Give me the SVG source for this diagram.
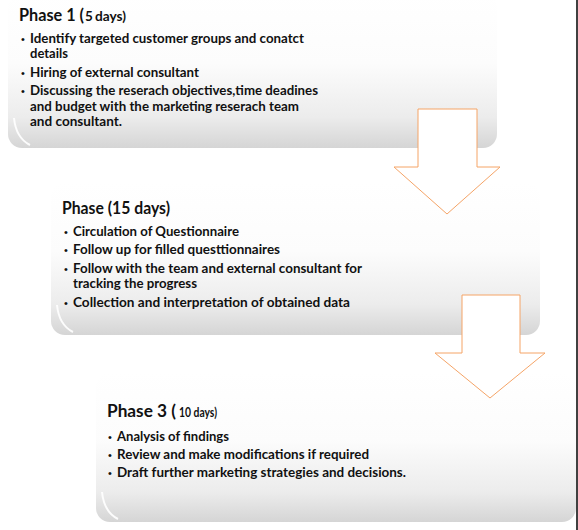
<svg xmlns="http://www.w3.org/2000/svg" width="578" height="530" viewBox="0 0 578 530">
  <style>
    .t { font-family: Lato, "Liberation Sans", sans-serif; font-weight: bold; fill: #111; }
    .title { font-size: 16.5px; }
    .sm { font-size: 13.5px; }
    .li { font-size: 12.8px; }
    .dot { font-family: "Liberation Sans", sans-serif; font-size: 11px; fill: #111; }
    .box { fill: url(#boxGrad); }
    .hl { fill: none; stroke: #ffffff; stroke-width: 2; opacity: 0.9; }
    .arrow { fill: #ffffff; stroke: #f5a467; stroke-width: 1; }
  </style>
  <defs>
    <linearGradient id="boxGrad" x1="0" y1="0" x2="0" y2="1">
      <stop offset="0" stop-color="#ffffff"/>
      <stop offset="0.45" stop-color="#fcfcfc"/>
      <stop offset="0.8" stop-color="#ececec"/>
      <stop offset="1" stop-color="#d5d5d5"/>
    </linearGradient>
  </defs>
  <rect x="0" y="0" width="578" height="530" fill="#ffffff"/>

  <g id="phase1">
    <rect class="box" x="8" y="-6" width="489" height="154" rx="14"/>
    <path class="hl" d="M 14 118 Q 16 138 30 145"/>
    <text class="t title" x="19" y="21" textLength="65" lengthAdjust="spacingAndGlyphs">Phase 1 (</text>
    <text class="t sm" x="85" y="21">5</text>
    <text class="t sm" x="95" y="21" textLength="31" lengthAdjust="spacingAndGlyphs">days)</text>
    <text class="dot" x="21" y="43">•</text>
    <text class="t li" x="30" y="43" textLength="274" lengthAdjust="spacingAndGlyphs">Identify targeted customer groups and conatct</text>
    <text class="t li" x="30" y="58" textLength="38" lengthAdjust="spacingAndGlyphs">details</text>
    <text class="dot" x="21" y="77">•</text>
    <text class="t li" x="30" y="77" textLength="169" lengthAdjust="spacingAndGlyphs">Hiring of external consultant</text>
    <text class="dot" x="21" y="95">•</text>
    <text class="t li" x="30" y="95" textLength="288" lengthAdjust="spacingAndGlyphs">Discussing the reserach objectives,time deadines</text>
    <text class="t li" x="30" y="111" textLength="269" lengthAdjust="spacingAndGlyphs">and budget with the marketing reserach team</text>
    <text class="t li" x="30" y="126" textLength="92" lengthAdjust="spacingAndGlyphs">and consultant.</text>
  </g>

  <g id="phase2">
    <rect class="box" x="51" y="183" width="489" height="152" rx="14"/>
    <path class="hl" d="M 57 305 Q 59 325 73 332"/>
    <text class="t title" x="62" y="214" textLength="108" lengthAdjust="spacingAndGlyphs">Phase (15 days)</text>
    <text class="dot" x="64" y="236">•</text>
    <text class="t li" x="73" y="236" textLength="166" lengthAdjust="spacingAndGlyphs">Circulation of Questionnaire</text>
    <text class="dot" x="64" y="254">•</text>
    <text class="t li" x="73" y="254" textLength="207" lengthAdjust="spacingAndGlyphs">Follow up for filled questtionnaires</text>
    <text class="dot" x="64" y="273">•</text>
    <text class="t li" x="73" y="273" textLength="289" lengthAdjust="spacingAndGlyphs">Follow with the team and external consultant for</text>
    <text class="t li" x="73" y="288" textLength="124" lengthAdjust="spacingAndGlyphs">tracking the progress</text>
    <text class="dot" x="64" y="307">•</text>
    <text class="t li" x="73" y="307" textLength="277" lengthAdjust="spacingAndGlyphs">Collection and interpretation of obtained data</text>
  </g>

  <g id="phase3">
    <rect class="box" x="96" y="373" width="480" height="149" rx="14"/>
    <path class="hl" d="M 102 492 Q 104 512 118 519"/>
    <text class="t title" x="107" y="417" textLength="69" lengthAdjust="spacingAndGlyphs">Phase 3 (</text>
    <text class="t sm" x="179" y="417" textLength="38" lengthAdjust="spacingAndGlyphs">10 days)</text>
    <text class="dot" x="108" y="441">•</text>
    <text class="t li" x="117" y="441" textLength="112" lengthAdjust="spacingAndGlyphs">Analysis of findings</text>
    <text class="dot" x="108" y="459">•</text>
    <text class="t li" x="117" y="459" textLength="252" lengthAdjust="spacingAndGlyphs">Review and make modifications if required</text>
    <text class="dot" x="108" y="477">•</text>
    <text class="t li" x="117" y="477" textLength="289" lengthAdjust="spacingAndGlyphs">Draft  further marketing strategies and decisions.</text>
  </g>

  <g id="connectors">
    <polygon class="arrow" points="418,109 477,109 477,167 500,167 447,214 394,167 418,167"/>
    <polygon class="arrow" points="462,295 520,295 520,353 545,353 490,398 435,353 462,353"/>
  </g>

  <line x1="577" y1="0" x2="577" y2="530" stroke="#000000" stroke-width="1.5"/>
</svg>
